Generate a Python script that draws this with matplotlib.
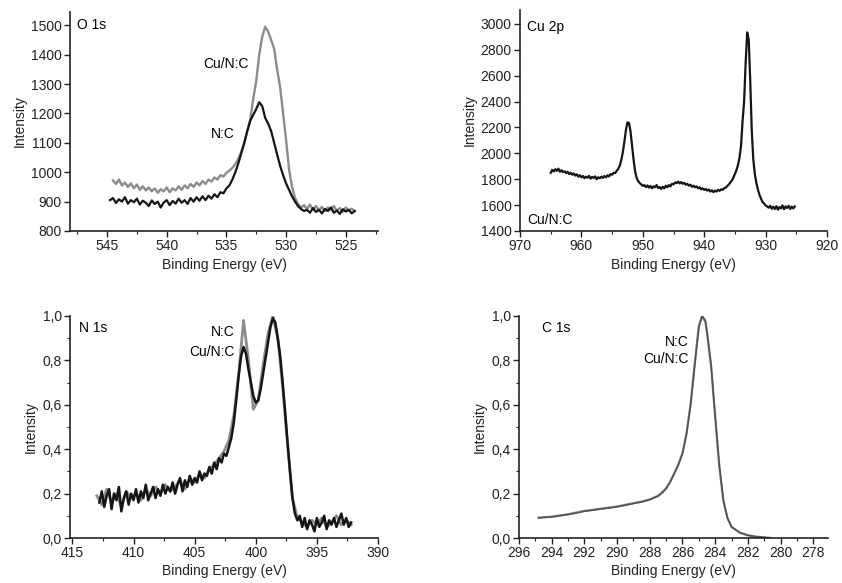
import numpy as np
import matplotlib
matplotlib.use("Agg")
import matplotlib.pyplot as plt
from matplotlib.ticker import MultipleLocator, FuncFormatter

plt.rcParams['font.family'] = ['Liberation Sans', 'DejaVu Sans']

# ---------------- O 1s ----------------
o1s_nc_start, o1s_step = 544.75, 0.25
o1s_nc = [905, 912, 895, 908, 900, 915, 893, 905, 898, 910, 890, 903, 896, 885, 904, 892,
          900, 880, 897, 905, 888, 902, 893, 910, 896, 905, 892, 912, 900, 915, 903, 918,
          905, 920, 910, 925, 915, 932, 928, 945, 955, 975, 1000, 1030, 1065, 1100, 1140,
          1175, 1195, 1215, 1238, 1225, 1185, 1165, 1140, 1100, 1060, 1022, 990, 962, 940,
          918, 900, 885, 875, 868, 872, 862, 878, 865, 872, 860, 875, 868, 880, 862, 870,
          858, 874, 866, 872, 860, 868]
o1s_cunc_start = 544.5
o1s_cunc = [972, 960, 975, 955, 965, 950, 962, 945, 958, 940, 952, 938, 948, 935, 945, 930,
            942, 935, 948, 932, 945, 938, 952, 940, 955, 945, 960, 950, 965, 955, 970, 960,
            975, 968, 982, 975, 990, 985, 998, 1005, 1015, 1028, 1045, 1070, 1100, 1140,
            1180, 1250, 1310, 1400, 1460, 1495, 1478, 1450, 1420, 1350, 1290, 1200, 1110,
            1010, 950, 912, 892, 880, 888, 875, 890, 872, 885, 870, 882, 868, 880, 872, 885,
            868, 878, 865, 880, 870, 876, 868]

# ---------------- Cu 2p ----------------
cu2p_start, cu2p_step = 965.0, 0.25
cu2p = [1850, 1872, 1860, 1878, 1865, 1882, 1858, 1870, 1855, 1862, 1848, 1858, 1840, 1850, 1835, 1845, 1828,
        1838, 1820, 1832, 1815, 1825, 1808, 1820, 1812, 1826, 1805, 1818, 1810, 1822, 1800, 1815, 1808,
        1820, 1810, 1825, 1815, 1830, 1822, 1840, 1835, 1850, 1848, 1865, 1880,
        1905, 1950, 2010, 2090, 2180, 2240, 2235, 2170, 2060, 1950, 1860, 1810,
        1785, 1770, 1760, 1748, 1755, 1740, 1752, 1735, 1748, 1730, 1745, 1738, 1755, 1732, 1740, 1725,
        1742, 1730, 1750, 1738, 1755, 1745, 1765, 1760,
        1775, 1770, 1782, 1768, 1778, 1765, 1772, 1758, 1765, 1750, 1758, 1742, 1750, 1738, 1745, 1730,
        1738, 1722, 1730, 1718,
        1725, 1712, 1720, 1705, 1715, 1700, 1712, 1705, 1718, 1710, 1722, 1718, 1730, 1735, 1748, 1758,
        1775, 1790, 1812, 1840,
        1870, 1910, 1965, 2060, 2250, 2400, 2700, 2935, 2880, 2560, 2170, 1950, 1840, 1770, 1720, 1680,
        1650, 1625, 1612, 1598, 1590, 1580, 1595, 1572, 1588, 1570, 1592, 1565, 1585, 1575, 1598, 1568,
        1590, 1578, 1595, 1570, 1588, 1575, 1590]

# ---------------- N 1s ----------------
n1s_nc_start, n1s_nc_step = 412.8, 0.2
n1s_nc = [0.16, 0.21, 0.14, 0.19, 0.22, 0.13, 0.20, 0.17, 0.23, 0.12, 0.18, 0.21, 0.15, 0.20, 0.17,
          0.22, 0.16, 0.21, 0.18, 0.24, 0.17, 0.20, 0.23, 0.18, 0.22, 0.19, 0.24, 0.20, 0.23, 0.21,
          0.25, 0.20, 0.24, 0.27, 0.21, 0.26, 0.23, 0.28, 0.24, 0.27, 0.25, 0.30, 0.26, 0.29, 0.28,
          0.32, 0.29, 0.34, 0.31, 0.36, 0.34, 0.38, 0.37, 0.41, 0.45,
          0.52, 0.62, 0.73, 0.82, 0.86, 0.83, 0.76, 0.70, 0.64, 0.61,
          0.62, 0.67, 0.74, 0.81, 0.88, 0.95, 0.99, 0.97, 0.90, 0.82,
          0.70, 0.57, 0.43, 0.30, 0.18, 0.11, 0.08, 0.10, 0.05, 0.09,
          0.04, 0.08, 0.06, 0.03, 0.09, 0.05, 0.07, 0.10, 0.04, 0.08, 0.06, 0.09, 0.05, 0.08, 0.11,
          0.06, 0.09, 0.05, 0.07]
n1s_cunc_start, n1s_cunc_step = 413.0, 0.4
n1s_cunc = [0.19, 0.15, 0.22, 0.16, 0.20, 0.14, 0.21, 0.18,
            0.20, 0.17, 0.22, 0.19, 0.23, 0.20, 0.24, 0.21,
            0.23, 0.26, 0.22, 0.27, 0.25, 0.29, 0.27,
            0.31, 0.33, 0.36, 0.39, 0.44, 0.55, 0.74,
            0.98, 0.80, 0.58, 0.62, 0.78, 0.92, 1.00,
            0.90, 0.68, 0.42, 0.18, 0.09, 0.07, 0.05,
            0.08, 0.06, 0.09, 0.05, 0.07, 0.10, 0.06, 0.08, 0.06]

# ---------------- C 1s ----------------
c1s_energy = [294.8, 294.0, 293.0, 292.0, 291.0, 290.0, 289.0, 288.5, 288.0, 287.5, 287.25, 287.0,
              286.75, 286.5, 286.25, 286.0, 285.75, 285.5, 285.25, 285.0, 284.8, 284.6, 284.5,
              284.25, 284.0, 283.75, 283.5, 283.25, 283.0, 282.5, 282.0, 281.5, 281.0, 280.6]
c1s_nc = [0.090, 0.095, 0.105, 0.120, 0.130, 0.140, 0.155, 0.162, 0.172, 0.188, 0.203, 0.222,
          0.252, 0.290, 0.330, 0.380, 0.470, 0.600, 0.780, 0.950, 1.000, 0.980, 0.930,
          0.780, 0.550, 0.330, 0.170, 0.090, 0.050, 0.025, 0.012, 0.006, 0.003, 0.000]
c1s_cunc = [0.092, 0.096, 0.107, 0.122, 0.132, 0.142, 0.157, 0.164, 0.174, 0.190, 0.205, 0.224,
            0.254, 0.292, 0.332, 0.382, 0.472, 0.605, 0.785, 0.955, 1.000, 0.975, 0.925,
            0.775, 0.545, 0.325, 0.168, 0.090, 0.050, 0.024, 0.012, 0.006, 0.003, 0.000]


def energies(start, step, vals):
    return start - step * np.arange(len(vals))


BLACK = '#151515'
GRAY = '#8c8c8c'
FS = 10

fig = plt.figure(figsize=(8.42, 5.83), dpi=100)
W, H = 842, 583


def make_ax(left, right, top, bottom):
    return fig.add_axes([left / W, (H - bottom) / H, (right - left) / W, (bottom - top) / H])


def style(ax, comma=False):
    for s in ('top', 'right'):
        ax.spines[s].set_visible(False)
    for s in ('left', 'bottom'):
        ax.spines[s].set_linewidth(1.2)
        ax.spines[s].set_color('#222222')
    ax.tick_params(which='major', direction='out', length=4, width=1.0, labelsize=FS, pad=2,
                   colors='#222222')
    ax.tick_params(which='minor', direction='out', length=2, width=0.8, colors='#222222')
    ax.set_xlabel('Binding Energy (eV)', fontsize=FS, labelpad=3, color='#222222')
    ax.set_ylabel('Intensity', fontsize=FS, labelpad=3, color='#222222')
    if comma:
        ax.yaxis.set_major_formatter(FuncFormatter(lambda v, p: f'{v:.1f}'.replace('.', ',')))


# O 1s
ax1 = make_ax(70, 378, 12, 231)
ax1.plot(energies(o1s_cunc_start, o1s_step, o1s_cunc), o1s_cunc, color=GRAY, lw=1.7)
ax1.plot(energies(o1s_nc_start, o1s_step, o1s_nc), o1s_nc, color=BLACK, lw=1.6)
ax1.set_xlim(548.1, 522.3)
ax1.set_ylim(800, 1545)
ax1.xaxis.set_major_locator(MultipleLocator(5))
ax1.xaxis.set_minor_locator(MultipleLocator(2.5))
ax1.yaxis.set_major_locator(MultipleLocator(100))
style(ax1)
ax1.text(547.5, 1500, 'O 1s', fontsize=FS, va='center', ha='left')
ax1.text(533.1, 1368, 'Cu/N:C', fontsize=FS, va='center', ha='right')
ax1.text(534.35, 1130, 'N:C', fontsize=FS, va='center', ha='right')

# Cu 2p
ax2 = make_ax(520, 827, 10, 231)
ax2.plot(energies(cu2p_start, cu2p_step, cu2p), cu2p, color=BLACK, lw=1.6)
ax2.set_xlim(970, 920)
ax2.set_ylim(1400, 3108)
ax2.xaxis.set_major_locator(MultipleLocator(10))
ax2.xaxis.set_minor_locator(MultipleLocator(5))
ax2.yaxis.set_major_locator(MultipleLocator(200))
style(ax2)
ax2.text(968.8, 2980, 'Cu 2p', fontsize=FS, va='center', ha='left')
ax2.text(968.8, 1485, 'Cu/N:C', fontsize=FS, va='center', ha='left')

# N 1s
ax3 = make_ax(70, 378, 316, 538)
ax3.plot(energies(n1s_cunc_start, n1s_cunc_step, n1s_cunc), n1s_cunc, color=GRAY, lw=2.0)
ax3.plot(energies(n1s_nc_start, n1s_nc_step, n1s_nc), n1s_nc, color=BLACK, lw=1.8)
ax3.set_xlim(415.2, 390)
ax3.set_ylim(0, 1.0)
ax3.xaxis.set_major_locator(MultipleLocator(5))
ax3.xaxis.set_minor_locator(MultipleLocator(2.5))
ax3.yaxis.set_major_locator(MultipleLocator(0.2))
ax3.yaxis.set_minor_locator(MultipleLocator(0.1))
style(ax3, comma=True)
ax3.text(414.5, 0.945, 'N 1s', fontsize=FS, va='center', ha='left')
ax3.text(401.7, 0.928, 'N:C', fontsize=FS, va='center', ha='right')
ax3.text(401.7, 0.837, 'Cu/N:C', fontsize=FS, va='center', ha='right')

# C 1s
ax4 = make_ax(519, 828, 316, 538)
ax4.plot(c1s_energy, c1s_cunc, color='#808080', lw=1.6)
ax4.plot(c1s_energy, c1s_nc, color='#505050', lw=1.0)
ax4.set_xlim(296, 277.1)
ax4.set_ylim(0, 1.0)
ax4.xaxis.set_major_locator(MultipleLocator(2))
ax4.xaxis.set_minor_locator(MultipleLocator(1))
ax4.yaxis.set_major_locator(MultipleLocator(0.2))
ax4.yaxis.set_minor_locator(MultipleLocator(0.1))
style(ax4, comma=True)
ax4.text(294.6, 0.945, 'C 1s', fontsize=FS, va='center', ha='left')
ax4.text(285.6, 0.885, 'N:C', fontsize=FS, va='center', ha='right')
ax4.text(285.6, 0.805, 'Cu/N:C', fontsize=FS, va='center', ha='right')

fig.savefig('out.png', dpi=100, facecolor='white')
